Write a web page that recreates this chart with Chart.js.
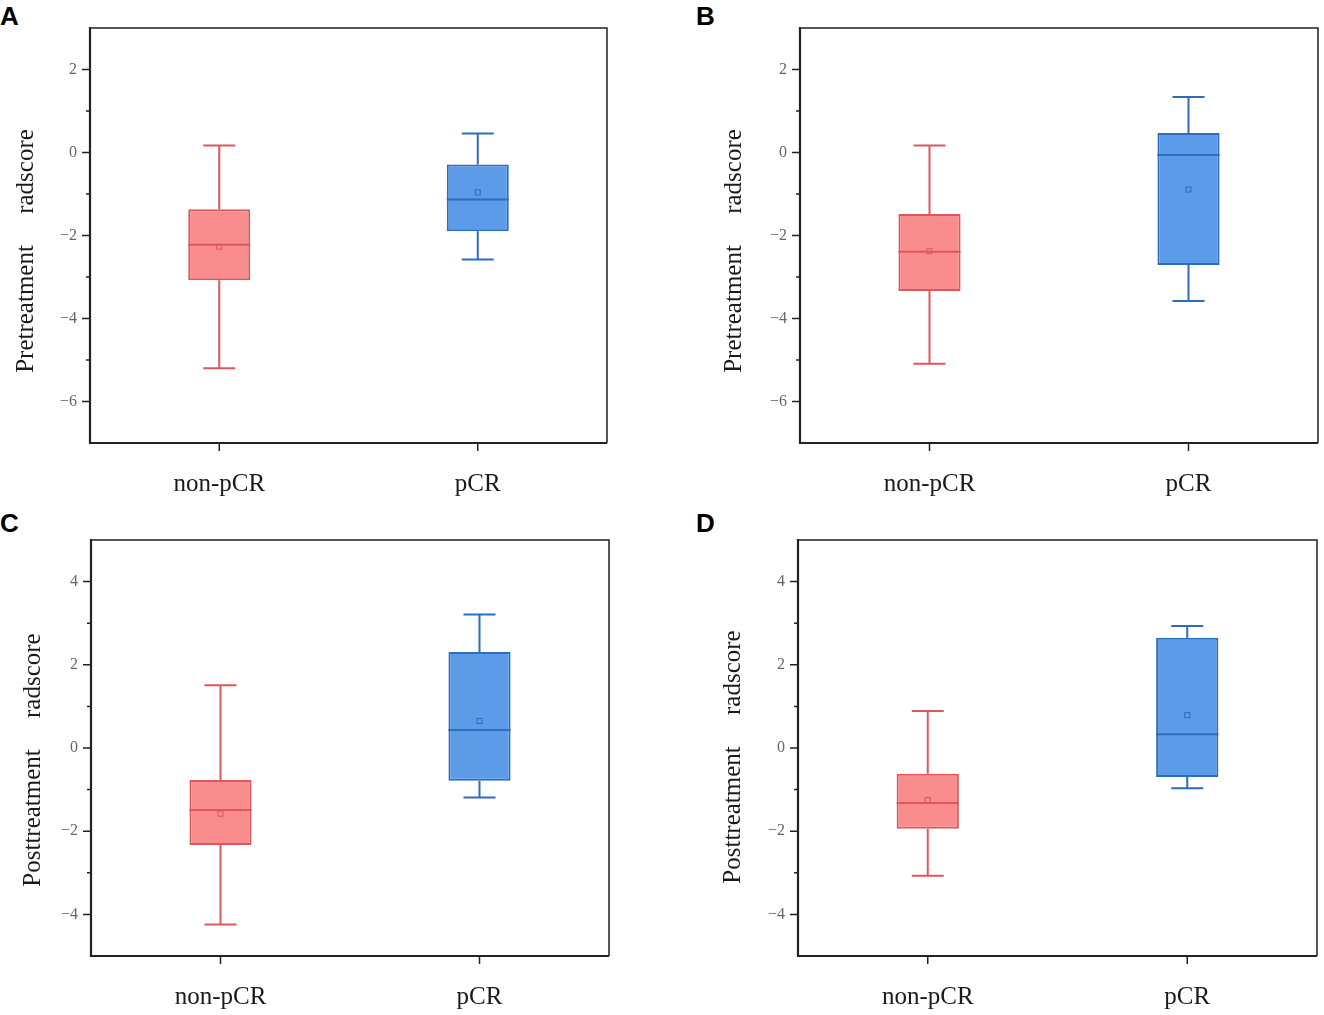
<!DOCTYPE html>
<html>
<head>
<meta charset="utf-8">
<title>radscore boxplots</title>
<script src="https://cdn.jsdelivr.net/npm/chart.js@4.4.0/dist/chart.umd.min.js"></script>
<style>
    body { margin: 0; background: #fff; width: 1324px; height: 1015px; position: relative; overflow: hidden; }
    canvas { position: absolute; }
    .letter { position: absolute; font: bold 26px "Liberation Sans", Arial, sans-serif; color: #000; line-height: 1; }
</style>
</head>
<body>
<div class="letter" style="left:0px;top:3px">A</div>
<div class="letter" style="left:696px;top:3px">B</div>
<div class="letter" style="left:0px;top:510px">C</div>
<div class="letter" style="left:696px;top:510px">D</div>
<canvas id="panelA"></canvas>
<canvas id="panelB"></canvas>
<canvas id="panelC"></canvas>
<canvas id="panelD"></canvas>
<script>
// Data (one row per panel A-D, one value per group)
const categories = ['non-pCR', 'pCR'];
const axisTitles = ['Pretreatment     radscore', 'Pretreatment     radscore',
                    'Posttreatment     radscore', 'Posttreatment     radscore'];
const yMins = [-7, -7, -5, -5];
const yMaxs = [3, 3, 5, 5];

const whiskerMin = [[-5.20, -2.58], [-5.09, -3.58], [-4.24, -1.19], [-3.07, -0.97]];
const q1Values   = [[-3.08, -1.90], [-3.34, -2.71], [-2.33, -0.79], [-1.94, -0.70]];
const medians    = [[-2.22, -1.13], [-2.39, -0.06], [-1.49,  0.43], [-1.32,  0.33]];
const q3Values   = [[-1.37, -0.29], [-1.48,  0.47], [-0.77,  2.31], [-0.62,  2.65]];
const whiskerMax = [[ 0.17,  0.46], [ 0.17,  1.34], [ 1.51,  3.21], [ 0.89,  2.93]];
const means      = [[-2.27, -0.96], [-2.38, -0.89], [-1.58,  0.65], [-1.25,  0.79]];

// Styling
const fillColors = ['#F98C8C', '#5B9BE8'];
const lineColors = ['#DD585B', '#2D6DBE'];
const serif = '"Liberation Serif", "Times New Roman", serif';

// Canvas placement and plot rectangle inside each canvas [left, top, right, bottom]
const panels = [
    { id: 'panelA', left: 0,   top: 0,   w: 662, h: 507, plot: [90, 28, 607, 443], titleX: 26, titleY: 251 },
    { id: 'panelB', left: 710, top: 0,   w: 614, h: 507, plot: [90, 28, 608, 443], titleX: 24, titleY: 251 },
    { id: 'panelC', left: 0,   top: 512, w: 662, h: 503, plot: [91, 28, 609, 444], titleX: 33, titleY: 248 },
    { id: 'panelD', left: 708, top: 512, w: 616, h: 503, plot: [90, 28, 609, 444], titleX: 25, titleY: 245 }
];

const boxPlugin = {
    id: 'boxWhiskers',
    afterDatasetsDraw(chart, args, opts) {
        const p = opts.panel;
        const { ctx, chartArea } = chart;
        const x = chart.scales.x;
        const y = chart.scales.y;
        const bars = chart.getDatasetMeta(0).data;

        ctx.save();
        categories.forEach((cat, j) => {
            const cx = x.getPixelForValue(j);
            const half = bars[j].width / 2;
            const capHalf = 16;
            const yMinPx = y.getPixelForValue(whiskerMin[p][j]);
            const yQ1 = y.getPixelForValue(q1Values[p][j]);
            const yMed = y.getPixelForValue(medians[p][j]);
            const yQ3 = y.getPixelForValue(q3Values[p][j]);
            const yMaxPx = y.getPixelForValue(whiskerMax[p][j]);
            const yMean = y.getPixelForValue(means[p][j]);

            ctx.strokeStyle = lineColors[j];
            ctx.lineWidth = 2;
            ctx.beginPath();
            // whiskers
            ctx.moveTo(cx, yQ3); ctx.lineTo(cx, yMaxPx);
            ctx.moveTo(cx - capHalf, yMaxPx); ctx.lineTo(cx + capHalf, yMaxPx);
            ctx.moveTo(cx, yQ1); ctx.lineTo(cx, yMinPx);
            ctx.moveTo(cx - capHalf, yMinPx); ctx.lineTo(cx + capHalf, yMinPx);
            // median
            ctx.moveTo(cx - half, yMed); ctx.lineTo(cx + half, yMed);
            ctx.stroke();

            // mean marker
            ctx.lineWidth = 1;
            ctx.strokeRect(cx - 2.5, yMean - 2.5, 5, 5);
        });

        // frame
        ctx.strokeStyle = '#222';
        ctx.lineWidth = 1.5;
        ctx.beginPath();
        ctx.moveTo(chartArea.left, chartArea.top); ctx.lineTo(chartArea.right, chartArea.top);
        ctx.lineTo(chartArea.right, chartArea.bottom);
        ctx.stroke();
        ctx.lineWidth = 2.2;
        ctx.beginPath();
        ctx.moveTo(chartArea.left, chartArea.top - 1); ctx.lineTo(chartArea.left, chartArea.bottom);
        ctx.lineTo(chartArea.right, chartArea.bottom);
        ctx.stroke();

        // tick marks
        ctx.lineWidth = 1.5;
        ctx.beginPath();
        y.ticks.forEach(t => {
            if (t.value === yMins[p] || t.value === yMaxs[p]) return;
            const py = y.getPixelForValue(t.value);
            const len = t.value % 2 === 0 ? 8 : 4;
            ctx.moveTo(chartArea.left - len, py); ctx.lineTo(chartArea.left, py);
        });
        categories.forEach((cat, j) => {
            const px = x.getPixelForValue(j);
            ctx.moveTo(px, chartArea.bottom); ctx.lineTo(px, chartArea.bottom + 8);
        });
        ctx.stroke();

        // y axis title
        const panel = panels[p];
        ctx.translate(panel.titleX, panel.titleY);
        ctx.rotate(-Math.PI / 2);
        ctx.fillStyle = '#1a1a1a';
        ctx.font = '25px ' + serif;
        ctx.textAlign = 'center';
        ctx.textBaseline = 'middle';
        ctx.fillText(axisTitles[p], 0, 0);
        ctx.restore();
    }
};

function makePanel(panel, p) {
    const canvas = document.getElementById(panel.id);
    canvas.width = panel.w;
    canvas.height = panel.h;
    canvas.style.left = panel.left + 'px';
    canvas.style.top = panel.top + 'px';
    canvas.style.width = panel.w + 'px';
    canvas.style.height = panel.h + 'px';

    const boxes = categories.map((c, j) => [q1Values[p][j], q3Values[p][j]]);

    new Chart(canvas, {
        type: 'bar',
        data: {
            labels: categories,
            datasets: [{
                data: boxes,
                backgroundColor: fillColors,
                borderColor: lineColors,
                borderWidth: 2,
                borderSkipped: false,
                barPercentage: 0.24,
                categoryPercentage: 1
            }]
        },
        options: {
            responsive: false,
            devicePixelRatio: 1,
            animation: false,
            layout: {
                padding: { top: panel.plot[1], right: panel.w - panel.plot[2], left: 0, bottom: 0 }
            },
            plugins: {
                legend: { display: false },
                tooltip: { enabled: false },
                boxWhiskers: { panel: p }
            },
            scales: {
                x: {
                    offset: true,
                    grid: { display: false, drawTicks: false },
                    border: { display: false },
                    ticks: {
                        padding: 26,
                        color: '#1a1a1a',
                        font: { family: serif, size: 25 }
                    },
                    afterFit: (scale) => { scale.height = panel.h - panel.plot[3]; }
                },
                y: {
                    min: yMins[p],
                    max: yMaxs[p],
                    grid: { display: false, drawTicks: false },
                    border: { display: false },
                    ticks: {
                        stepSize: 1,
                        padding: 13,
                        color: '#666',
                        font: { family: serif, size: 16 },
                        callback: (v) => (v % 2 === 0 && v !== yMins[p] && v !== yMaxs[p])
                            ? String(v).replace('-', '\u2212') : ''
                    },
                    afterFit: (scale) => { scale.width = panel.plot[0]; }
                }
            }
        },
        plugins: [boxPlugin]
    });
}

panels.forEach(makePanel);
</script>
</body>
</html>
